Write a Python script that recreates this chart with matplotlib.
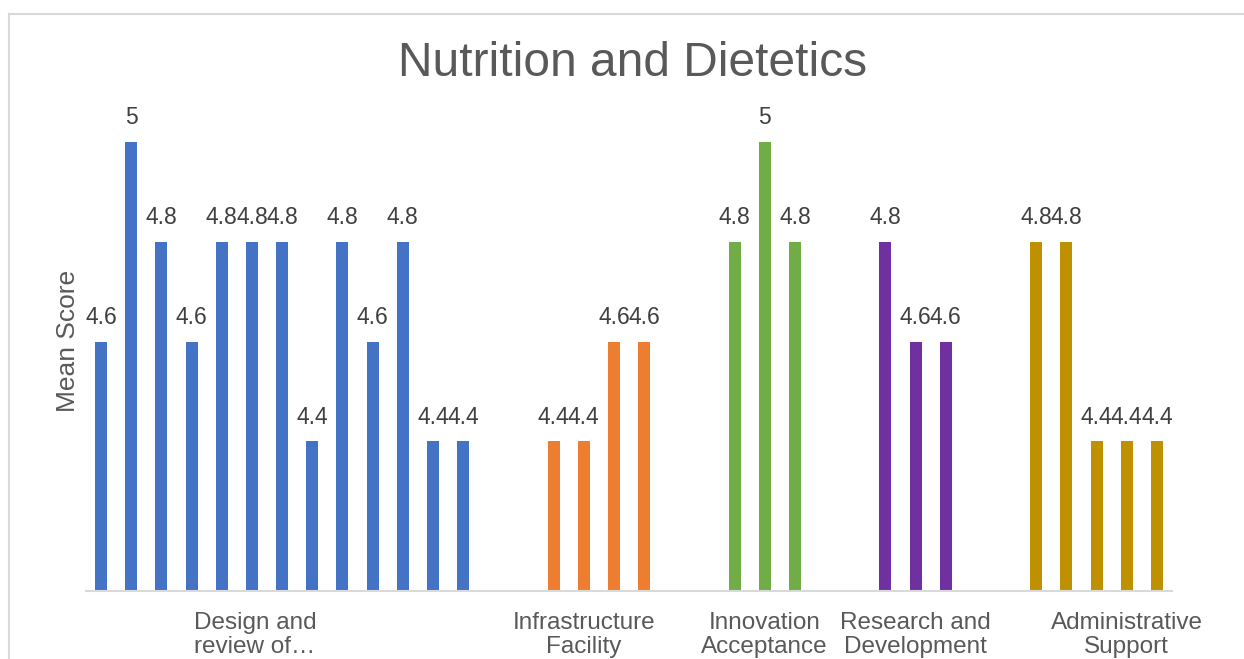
import matplotlib
matplotlib.use('Agg')
import matplotlib.pyplot as plt
from matplotlib.lines import Line2D

# scores per group
design = [4.6, 5, 4.8, 4.6, 4.8, 4.8, 4.8, 4.4, 4.8, 4.6, 4.8, 4.4, 4.4]
infrastructure = [4.4, 4.4, 4.6, 4.6]
innovation = [4.8, 5, 4.8]
research = [4.8, 4.6, 4.6]
administrative = [4.8, 4.8, 4.4, 4.4, 4.4]

groups = [design, infrastructure, innovation, research, administrative]
colors = ['#4472C4', '#ED7D31', '#70AD47', '#7030A0', '#BF9000']
cat_labels = ['Design and\nreview of\u2026', 'Infrastructure\nFacility',
              'Innovation\nAcceptance', 'Research and\nDevelopment',
              'Administrative\nSupport']
cat_ticks = [5.1, 16, 22, 27, 34]

plt.rcParams['font.family'] = ['Liberation Sans', 'DejaVu Sans']

fig = plt.figure(figsize=(12.44, 6.59), dpi=100)
ax = fig.add_axes([86 / 1244, 1 - 591 / 659, (1172 - 86) / 1244, (591 - 92) / 659])

start = 0
for vals, col in zip(groups, colors):
    xs = list(range(start, start + len(vals)))
    ax.bar(xs, vals, width=0.4, color=col)
    for x, v in zip(xs, vals):
        ax.annotate('%g' % v, (x, v), xytext=(0, 9), textcoords='offset points',
                    ha='center', va='bottom', fontsize=16.5, color='#404040')
    start += len(vals) + 2

ax.set_ylim(4.1, 5.1)
ax.set_xlim(-0.5, 35.5)
for s in ['top', 'right', 'left']:
    ax.spines[s].set_visible(False)
ax.spines['bottom'].set_color('#d9d9d9')
ax.spines['bottom'].set_linewidth(1.5)
ax.set_yticks([])
ax.set_xticks(cat_ticks)
ax.set_xticklabels(cat_labels, fontsize=17.5, color='#595959', linespacing=1.12)
ax.tick_params(axis='x', length=0, pad=15)

fig.text(633 / 1244, 1 - 63 / 659, 'Nutrition and Dietetics', ha='center', va='center',
         fontsize=34.5, color='#595959')
fig.text(68 / 1244, 1 - 341 / 659, 'Mean Score', rotation=90, ha='center', va='center',
         fontsize=19, color='#595959')

# chart frame (only left and top edges visible in the crop)
fig.add_artist(Line2D([9 / 1244, 9 / 1244], [0, 1 - 14 / 659], color='#d9d9d9', lw=1.5,
                      transform=fig.transFigure))
fig.add_artist(Line2D([9 / 1244, 1], [1 - 14 / 659, 1 - 14 / 659], color='#d9d9d9', lw=1.5,
                      transform=fig.transFigure))

fig.savefig('out.png', dpi=100)
